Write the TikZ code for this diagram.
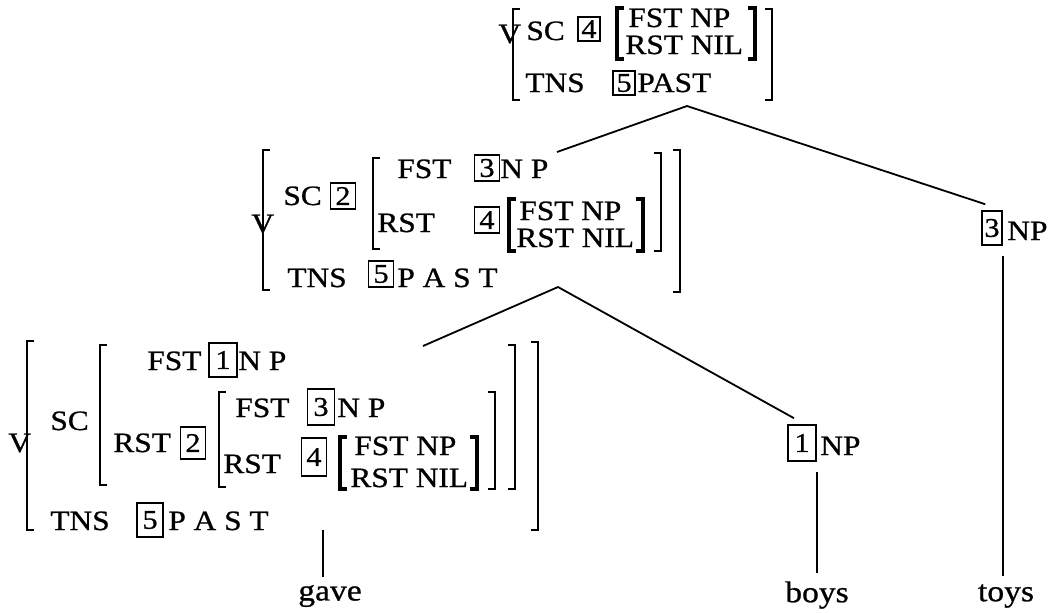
\documentclass[tikz,border=0pt]{standalone}
\usepackage{fontspec}
\setmainfont[FakeStretch=1.12, FakeBold=0.8]{Liberation Serif}
\usetikzlibrary{positioning}
\tikzset{
  lbl/.style={anchor=base west, inner sep=0pt, font=\fontsize{14}{16}\selectfont},
  pair/.style={lbl, font=\fontsize{14}{15}\selectfont},
  tag/.style={draw, line width=0.8pt, inner sep=0pt, minimum width=11pt,
    minimum height=12pt, font=\fontsize{13.5}{14}\selectfont},
  brak/.style={line width=1.3pt},
  tbrak/.style={line width=1.9pt},
  branch/.style={line width=0.9pt},
  word/.style={inner sep=0pt, font=\fontsize{15}{17}\selectfont},
}
% brackets: [style]{x}{top y}{bottom y}
\newcommand{\lbrak}[4][brak]{\draw[#1] (#2+7,#3) -| (#2,#4) -- (#2+7,#4);}
\newcommand{\rbrak}[4][brak]{\draw[#1] (#2-7,#3) -| (#2,#4) -- (#2-7,#4);}
\begin{document}
\begin{tikzpicture}[x=0.5pt, y=-0.5pt]
    \useasboundingbox (0,0) rectangle (1052,612);
    % Top category
    \node[lbl] (vtop) at (498,43) {V};
    \lbrak{513}{9}{100}
    \node[lbl] (sctop) at (526,40) {SC};
    \node[tag] (t4top) at (589,29) {4};
    \lbrak[tbrak]{617}{8}{59}
    \node[pair] at (628,27) {FST NP};
    \node[pair] at (625,54) {RST NIL};
    \rbrak[tbrak]{755}{8}{59}
    \node[lbl] (tnstop) at (525,92) {TNS};
    \node[tag] (t5top) at (624,83) {5};
    \node[lbl] at (637,92) {PAST};
    \rbrak{772}{9}{100}
    % Middle category
    \node[lbl] (vmid) at (251,233) {V};
    \lbrak{263}{150}{290}
    \node[lbl] (scmid) at (283,205) {SC};
    \node[tag, minimum width=12.5pt, minimum height=13pt] (t2mid) at (343,196) {2};
    \lbrak{373}{158}{249}
    \node[lbl] at (397,178) {FST};
    \node[tag, minimum width=12.5pt, minimum height=13pt] (t3mid) at (487,168) {3};
    \node[lbl] at (500,178) {N P};
    \node[lbl] at (377,232) {RST};
    \node[tag, minimum width=12.5pt, minimum height=13pt] (t4mid) at (487,220) {4};
    \lbrak[tbrak]{509}{199}{251}
    \node[pair] at (519,220) {FST NP};
    \node[pair] at (516,247) {RST NIL};
    \rbrak[tbrak]{643}{199}{251}
    \rbrak{661}{153}{251}
    \node[lbl] (tnsmid) at (287,287) {TNS};
    \node[tag, minimum width=12.5pt, minimum height=13pt] (t5mid) at (381,274) {5};
    \node[lbl] at (397,287) {P A S T};
    \rbrak{680}{150}{292}
    % Lower category
    \node[lbl] (vlow) at (8,452) {V};
    \lbrak{27}{341}{530}
    \node[lbl] (sclow) at (50,430) {SC};
    \lbrak{100}{345}{485}
    \node[lbl] at (147,370) {FST};
    \node[tag, minimum width=14pt, minimum height=17pt] (t1low) at (223,360) {1};
    \node[lbl] at (238,370) {N P};
    \node[lbl] at (113,452) {RST};
    \node[tag, minimum width=12.5pt, minimum height=16pt] (t2low) at (193,443) {2};
    \lbrak{219}{392}{487}
    \node[lbl] at (235,417) {FST};
    \node[tag, minimum width=13.5pt, minimum height=18pt] (t3low) at (321,407) {3};
    \node[lbl] at (337,417) {N P};
    \node[lbl] at (223,473) {RST};
    \node[tag, minimum width=12.5pt, minimum height=19pt] (t4low) at (314,457) {4};
    \lbrak[tbrak]{340}{437}{489}
    \node[pair] at (354,455) {FST NP};
    \node[pair] at (350,487) {RST NIL};
    \rbrak[tbrak]{477}{437}{489}
    \rbrak{495}{392}{489}
    \rbrak{515}{345}{489}
    \node[lbl] (tnslow) at (50,530) {TNS};
    \node[tag, minimum width=13pt, minimum height=17pt] (t5low) at (150,520) {5};
    \node[lbl] at (168,530) {P A S T};
    \rbrak{538}{342}{530}
    % Noun phrases
    \node[tag, minimum width=10pt, minimum height=17pt] (t3np) at (992,228) {3};
    \node[lbl] (np3) at (1007,240) {NP};
    \node[tag, minimum width=14pt, minimum height=18pt] (t1np) at (802,443) {1};
    \node[lbl] (np1) at (820,455) {NP};
    % Words
    \node[word] (gave) at (330,596) {gave};
    \node[word] (boys) at (817,595) {boys};
    \node[word] (toys) at (1006,596) {toys};
    % Branch points
    \coordinate (topfoot) at (687,106);
    \coordinate (midhead) at (557,152);
    \coordinate (midfoot) at (558,287);
    \coordinate (lowhead) at (423,346);
    \coordinate (lowfoot) at (323,530);
    % Branches
    \draw[branch] (midhead) -- (topfoot) -- ([xshift=2pt, yshift=3pt]t3np.north west);
    \draw[branch] (lowhead) -- (midfoot) -- ([xshift=-4pt, yshift=3pt]t1np.north);
    \draw[branch] (lowfoot) -- ([yshift=4pt]gave.north -| lowfoot);
    \draw[branch] ([yshift=-5pt]t1np.south east) -- ([yshift=4pt]boys.north -| t1np.south east);
    \draw[branch] ([yshift=-5pt]t3np.south east) -- ([yshift=4pt]toys.north -| t3np.south east);
\end{tikzpicture}
\end{document}
